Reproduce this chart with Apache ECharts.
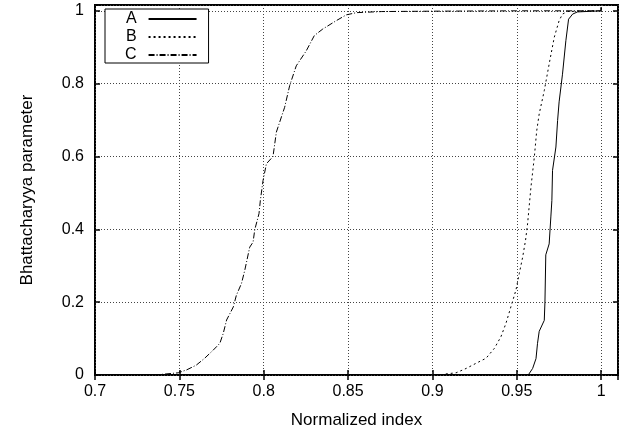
<!DOCTYPE html>
<html>
<head>
<meta charset="utf-8">
<script src="https://cdn.jsdelivr.net/npm/echarts@6/dist/echarts.min.js"></script>
<style>
  html, body { margin: 0; padding: 0; background: #fff; }
  #chart { width: 631px; height: 435px; }
</style>
</head>
<body>
<div id="chart"></div>
<script>
// curve A (solid)
var aX = [0.9568, 0.9594, 0.9614, 0.9623, 0.9633, 0.9663, 0.9667, 0.9672, 0.9692, 0.9702, 0.9708, 0.9712, 0.9732, 0.9742, 0.9751, 0.9771, 0.9791, 0.9807, 0.9831, 0.986, 0.995, 1.0, 1.0];
var aY = [0, 0.018, 0.045, 0.087, 0.12, 0.15, 0.2, 0.33, 0.36, 0.434, 0.479, 0.562, 0.626, 0.699, 0.75, 0.826, 0.918, 0.977, 0.991, 0.997, 0.999, 1.0, 1.01];
// curve B (dotted)
var bX = [0.905, 0.908, 0.914, 0.920, 0.9258, 0.9318, 0.9367, 0.9406, 0.9436, 0.9465, 0.9495, 0.9515, 0.9535, 0.9552, 0.9564, 0.9584, 0.9604, 0.9618, 0.9633, 0.9663, 0.9692, 0.9722, 0.9751, 0.9771, 0.98, 0.99, 1.0, 1.0];
var bY = [0, 0.003, 0.006, 0.018, 0.032, 0.046, 0.073, 0.105, 0.142, 0.187, 0.233, 0.279, 0.324, 0.37, 0.415, 0.516, 0.598, 0.67, 0.717, 0.781, 0.854, 0.927, 0.973, 0.991, 0.998, 1.0, 1.0, 1.01];
// curve C (dash-dot)
var cX = [0.735, 0.74, 0.7493, 0.7543, 0.760, 0.765, 0.770, 0.774, 0.776, 0.778, 0.782, 0.7838, 0.7868, 0.7888, 0.7917, 0.7937, 0.7947, 0.7972, 0.798, 0.7996, 0.8016, 0.8055, 0.8075, 0.8124, 0.8154, 0.8193, 0.8252, 0.830, 0.835, 0.843, 0.849, 0.855, 0.87, 0.9, 0.95, 1.0, 1.0];
var cY = [0, 0.002, 0.006, 0.014, 0.027, 0.046, 0.068, 0.087, 0.114, 0.151, 0.187, 0.219, 0.251, 0.288, 0.351, 0.365, 0.399, 0.443, 0.479, 0.534, 0.58, 0.60, 0.667, 0.735, 0.795, 0.849, 0.89, 0.932, 0.95, 0.973, 0.989, 0.995, 0.998, 0.999, 1.0, 1.0, 1.01];

var seriesNames = ['A', 'B', 'C'];
var xTicks = [0.7, 0.75, 0.8, 0.85, 0.9, 0.95, 1];
var yTicks = [0, 0.2, 0.4, 0.6, 0.8, 1];

function pairs(xs, ys) {
    return xs.map(function (x, i) { return [x, ys[i]]; });
}
function onTick(list, v) {
    return list.some(function (t) { return Math.abs(t - v) < 1e-6; });
}

var font = 'Liberation Sans, Arial, sans-serif';
var chart = echarts.init(document.getElementById('chart'));

var tickStyle = { show: true, inside: true, length: 5, lineStyle: { color: '#000', width: 1.5 } };
var grid = { show: true, left: 95, right: 13, top: 5, bottom: 60, borderColor: '#000', borderWidth: 2, backgroundColor: '#fff' };

var option = {
    animation: false,
    backgroundColor: '#fff',
    grid: grid,
    legend: {
        data: seriesNames,
        orient: 'vertical',
        left: 105,
        top: 9,
        align: 'right',
        itemWidth: 48,
        itemHeight: 16,
        itemGap: 2,
        padding: [2, 11, 0, 20],
        backgroundColor: '#fff',
        borderColor: '#000',
        borderWidth: 1,
        borderRadius: 0,
        itemStyle: { opacity: 0 },
        textStyle: { fontFamily: font, fontSize: 16, color: '#000', padding: [0, 7, 0, 0] }
    },
    xAxis: [{
        type: 'value',
        min: 0.7,
        max: 1.01,
        interval: 0.05,
        name: 'Normalized index',
        nameLocation: 'middle',
        nameGap: 37,
        nameTextStyle: { fontFamily: font, fontSize: 17, color: '#000' },
        axisLine: { show: false },
        axisTick: tickStyle,
        axisLabel: {
            fontFamily: font, fontSize: 16, color: '#000', margin: 9,
            formatter: function (v) { return onTick(xTicks, v) ? String(+v.toFixed(2)) : ''; }
        },
        splitLine: { show: true, lineStyle: { color: '#444', type: [1, 2], width: 1 } }
    }, {
        type: 'value',
        position: 'top',
        min: 0.7,
        max: 1.01,
        interval: 0.05,
        axisLine: { show: false },
        axisTick: tickStyle,
        axisLabel: { show: false },
        splitLine: { show: false }
    }],
    yAxis: [{
        type: 'value',
        min: 0,
        max: 1.016,
        interval: 0.2,
        name: 'Bhattacharyya parameter',
        nameLocation: 'middle',
        nameGap: 59,
        nameTextStyle: { fontFamily: font, fontSize: 17, color: '#000' },
        axisLine: { show: false },
        axisTick: tickStyle,
        axisLabel: {
            fontFamily: font, fontSize: 16, color: '#000', margin: 11,
            formatter: function (v) { return onTick(yTicks, v) ? String(+v.toFixed(1)) : ''; }
        },
        splitLine: { show: true, lineStyle: { color: '#444', type: [1, 2], width: 1 } }
    }, {
        type: 'value',
        position: 'right',
        min: 0,
        max: 1.016,
        interval: 0.2,
        axisLine: { show: false },
        axisTick: tickStyle,
        axisLabel: { show: false },
        splitLine: { show: false }
    }],
    series: [{
        name: 'A',
        type: 'line',
        symbol: 'none',
        data: pairs(aX, aY),
        lineStyle: { color: '#000', width: 1, type: 'solid' },
        itemStyle: { color: '#000' },
        z: 3
    }, {
        name: 'B',
        type: 'line',
        symbol: 'none',
        data: pairs(bX, bY),
        lineStyle: { color: '#000', width: 1, type: [2, 3] },
        itemStyle: { color: '#000' },
        z: 3
    }, {
        name: 'C',
        type: 'line',
        symbol: 'none',
        data: pairs(cX, cY),
        lineStyle: { color: '#000', width: 1, type: [6, 2, 1, 2] },
        itemStyle: { color: '#000' },
        z: 3
    }]
};

chart.setOption(option);
</script>
</body>
</html>
